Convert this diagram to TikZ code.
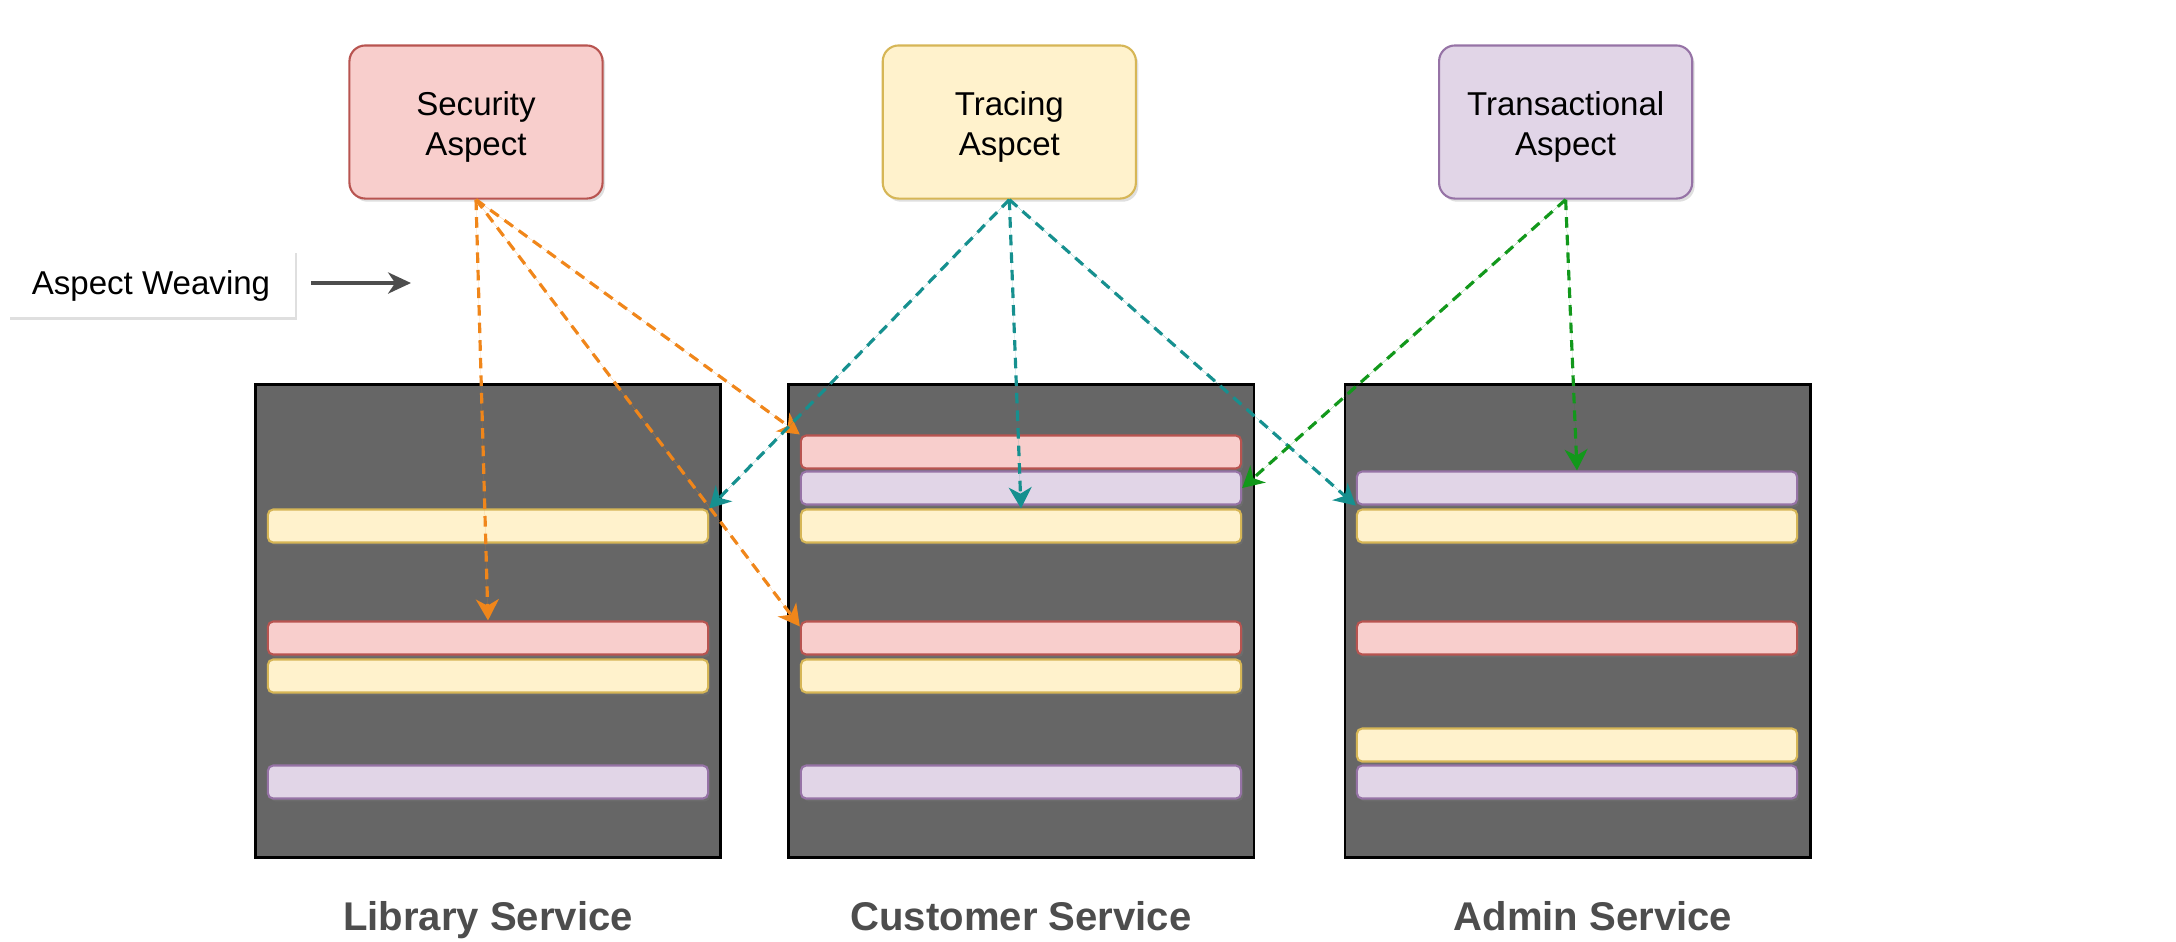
\documentclass[tikz,border=0pt]{standalone}
\usepackage{fontspec}
\setmainfont{Liberation Sans}
\usetikzlibrary{shapes.geometric, arrows, arrows.meta, shadows}
\definecolor{pinkfill}{HTML}{F8CECC}
\definecolor{pinkline}{HTML}{B85450}
\definecolor{yellowfill}{HTML}{FFF2CC}
\definecolor{yellowline}{HTML}{D6B656}
\definecolor{purplefill}{HTML}{E1D5E7}
\definecolor{purpleline}{HTML}{9673A6}
\definecolor{servicegray}{HTML}{666666}
\definecolor{labelgray}{HTML}{4D4D4D}
\definecolor{secorange}{HTML}{F0861A}
\definecolor{traceteal}{HTML}{16908F}
\definecolor{transgreen}{HTML}{12981B}
\tikzstyle{aspect} = [
    rectangle,
    rounded corners=4.5pt,
    minimum width=2.53cm,
    minimum height=1.53cm,
    align=center,
    line width=0.6pt,
    text height=21.3pt,
    text depth=2pt,
    font=\fontsize{9.4}{11.6}\selectfont,
    drop shadow={shadow xshift=0.7pt, shadow yshift=-0.9pt, opacity=0.25}
]
\tikzstyle{securitybox} = [aspect, fill=pinkfill, draw=pinkline]
\tikzstyle{tracingbox} = [aspect, fill=yellowfill, draw=yellowline]
\tikzstyle{transbox} = [aspect, fill=purplefill, draw=purpleline]
\tikzstyle{note} = [
    rectangle,
    minimum width=2.87cm,
    minimum height=0.67cm,
    fill=white,
    text height=8.8pt,
    text depth=2pt,
    font=\fontsize{9.4}{11.6}\selectfont,
    drop shadow={shadow xshift=0.7pt, shadow yshift=-0.9pt, opacity=0.25}
]
\tikzstyle{service} = [
    rectangle,
    minimum width=4.65cm,
    minimum height=4.73cm,
    fill=servicegray,
    draw=black,
    line width=0.7pt
]
\tikzstyle{bar} = [
    rectangle,
    rounded corners=1.5pt,
    minimum width=4.4cm,
    minimum height=0.33cm,
    line width=0.6pt,
    drop shadow={shadow xshift=0.6pt, shadow yshift=-0.8pt, opacity=0.3}
]
\tikzstyle{pinkbar} = [bar, fill=pinkfill, draw=pinkline]
\tikzstyle{yellowbar} = [bar, fill=yellowfill, draw=yellowline]
\tikzstyle{purplebar} = [bar, fill=purplefill, draw=purpleline]
\tikzstyle{servlabel} = [anchor=base, font=\fontsize{11.4}{13}\selectfont\bfseries, text=labelgray]
\tikzstyle{weavearrow} = [line width=1.2pt, draw=labelgray, -{Stealth[length=6.5pt, width=6pt, inset=2pt]}]
\tikzstyle{link} = [line width=0.9pt, dash pattern=on 3pt off 2pt, -{Stealth[length=6pt, width=6.5pt, inset=1.8pt]}]
\tikzstyle{secarrow} = [link, draw=secorange, fill=secorange]
\tikzstyle{tracearrow} = [link, draw=traceteal, fill=traceteal]
\tikzstyle{transarrow} = [link, draw=transgreen, fill=transgreen]

\begin{document}
\begin{tikzpicture}[x=0.01cm, y=-0.01cm, node distance=5.33cm]

\useasboundingbox (0,0) rectangle (2176,941);

% aspects
\node (sec) [securitybox] at (476,122) {Security\\Aspect};
\node (trc) [tracingbox, right of=sec] {Tracing\\Aspcet};
\node (trn) [transbox, right of=trc, xshift=0.23cm] {Transactional\\Aspect};

\node (weave) [note] at (151,283) {Aspect Weaving};
\coordinate (wstart) at (311,283);
\coordinate (wend) at (411,283);
\draw [weavearrow] (wstart) -- (wend);

% services
\node (lib) [service] at (488,621) {};
\node (cus) [service, right of=lib] {};
\node (adm) [service, right of=cus, xshift=0.23cm] {};

\node (lyel1) [yellowbar] at (488,526) {};
\node (lpink1) [pinkbar] at (488,638) {};
\node (lyel2) [yellowbar] at (488,676) {};
\node (lpur1) [purplebar] at (488,782) {};

\node (cpink1) [pinkbar] at (1021,452) {};
\node (cpur1) [purplebar] at (1021,488) {};
\node (cyel1) [yellowbar] at (1021,526) {};
\node (cpink2) [pinkbar] at (1021,638) {};
\node (cyel2) [yellowbar] at (1021,676) {};
\node (cpur2) [purplebar] at (1021,782) {};

\node (apur1) [purplebar] at (1577,488) {};
\node (ayel1) [yellowbar] at (1577,526) {};
\node (apink1) [pinkbar] at (1577,638) {};
\node (ayel2) [yellowbar] at (1577,745) {};
\node (apur2) [purplebar] at (1577,782) {};

\node (liblabel) [servlabel] at (488,930) {Library Service};
\node (cuslabel) [servlabel] at (1021,930) {Customer Service};
\node (admlabel) [servlabel] at (1593,930) {Admin Service};

% weaving
\draw [secarrow] (sec.south) -- (lpink1.north);
\draw [secarrow] (sec.south) -- (cpink1.north west);
\draw [secarrow] (sec.south) -- ([yshift=-0.06cm]cpink2.north west);

\draw [tracearrow] (trc.south) -- (lyel1.north east);
\draw [tracearrow] (trc.south) -- (cyel1.north);
\draw [tracearrow] (trc.south) -- (apur1.south west);

\draw [transarrow] (trn.south) -- (cpur1.east);
\draw [transarrow] (trn.south) -- (apur1.north);

\end{tikzpicture}
\end{document}
